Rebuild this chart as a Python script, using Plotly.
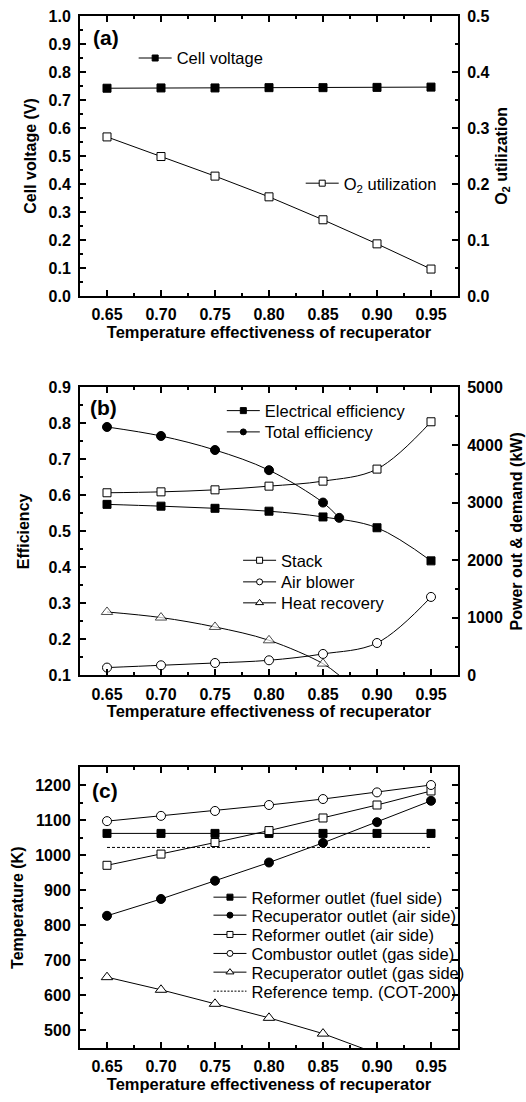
import plotly.graph_objects as go

FONT = "Liberation Sans"

# ---------------- data ----------------
effectiveness = [0.65, 0.70, 0.75, 0.80, 0.85, 0.90, 0.95]
x_tick_labels = ["0.65", "0.70", "0.75", "0.80", "0.85", "0.90", "0.95"]

# panel (a)
cell_voltage = [0.742, 0.743, 0.743, 0.744, 0.744, 0.745, 0.746]
o2_utilization = [0.284, 0.249, 0.214, 0.177, 0.136, 0.093, 0.048]
a_left_ticks = [0.0, 0.1, 0.2, 0.3, 0.4, 0.5, 0.6, 0.7, 0.8, 0.9, 1.0]
a_right_ticks = [0.0, 0.1, 0.2, 0.3, 0.4, 0.5]

# panel (b)
electrical_eff = [0.575, 0.570, 0.564, 0.556, 0.540, 0.510, 0.418]
total_eff_x = [0.65, 0.70, 0.75, 0.80, 0.85, 0.865]
total_eff = [0.790, 0.765, 0.726, 0.670, 0.580, 0.5375]
stack_kw = [3170, 3186, 3221, 3285, 3372, 3581, 4403]
blower_kw = [134, 174, 214, 261, 371, 561, 1361]
heat_x = [0.65, 0.70, 0.75, 0.80, 0.85, 0.865]
heat_kw = [1100, 1003, 840, 608, 203, 0]
b_left_ticks = [0.1, 0.2, 0.3, 0.4, 0.5, 0.6, 0.7, 0.8, 0.9]
b_right_ticks = [0, 1000, 2000, 3000, 4000, 5000]

# panel (c)
reformer_fuel = [1062, 1062, 1062, 1062, 1062, 1062, 1062]
recup_air = [827, 875, 927, 979, 1035, 1094, 1155]
reformer_air = [971, 1003, 1036, 1070, 1106, 1143, 1183]
combustor_gas = [1097, 1112, 1126, 1143, 1160, 1179, 1200]
recup_gas_x = [0.65, 0.70, 0.75, 0.80, 0.85, 0.90]
recup_gas = [652, 616, 576, 536, 491, 434]
ref_x = [0.65, 0.95]
ref_temp = [1022, 1022]
c_left_ticks = [500, 600, 700, 800, 900, 1000, 1100, 1200]

x_title = "Temperature effectiveness of recuperator"

# ---------------- geometry helpers (pixel -> paper) ----------------
W, H = 526, 1102
ML, MR, MT, MB = 79.5, 67.5, 16, 53.7
PW = W - ML - MR
PH = H - MT - MB


def px(x):
    return (x - ML) / PW


def py(y):
    return (H - MB - y) / PH


fig = go.Figure()
BLACK = "black"


def mk(symbol, filled, size):
    return dict(symbol=symbol, size=size, color=BLACK if filled else "white",
                line=dict(color=BLACK, width=1))


def add(xv, yv, xa, ya, symbol, filled, size=8, shape="linear", sizes=None):
    m = mk(symbol, filled, size)
    if sizes is not None:
        m["size"] = sizes
    fig.add_trace(go.Scatter(x=xv, y=yv, xaxis=xa, yaxis=ya, mode="lines+markers",
                             line=dict(color=BLACK, width=1, shape=shape, smoothing=1),
                             marker=m, showlegend=False, hoverinfo="skip"))


# panel (a)
add(effectiveness, cell_voltage, "x", "y", "square", True, 8)
add(effectiveness, o2_utilization, "x", "y2", "square", False, 8)

# panel (b)
add(effectiveness, electrical_eff, "x2", "y3", "square", True, 8, "spline")
add(total_eff_x, total_eff, "x2", "y3", "circle", True, 9, "spline")
add(effectiveness, stack_kw, "x2", "y4", "square", False, 8, "spline")
add(effectiveness, blower_kw, "x2", "y4", "circle", False, 9, "spline")
add(heat_x, heat_kw, "x2", "y4", "triangle-up", False, 10, "spline",
    sizes=[10, 10, 10, 10, 10, 0])

# panel (c)
add(effectiveness, reformer_fuel, "x3", "y5", "square", True, 8)
add(effectiveness, recup_air, "x3", "y5", "circle", True, 9)
add(effectiveness, reformer_air, "x3", "y5", "square", False, 8)
add(effectiveness, combustor_gas, "x3", "y5", "circle", False, 9)
add(recup_gas_x, recup_gas, "x3", "y5", "triangle-up", False, 10)
fig.add_trace(go.Scatter(x=ref_x, y=ref_temp, xaxis="x3", yaxis="y5", mode="lines",
                         line=dict(color=BLACK, width=1, dash="3px,2px"),
                         showlegend=False, hoverinfo="skip"))

# ---------------- legends (one entry each) ----------------
legend_entries = [
    # name, symbol, filled, marker-centre px, centre py
    ("Cell voltage", "square", True, 153.3, 58.3),
    ("O<sub>2</sub> utilization", "square", False, 320.8, 183.5),
    ("Electrical efficiency", "square", True, 241.7, 411.0),
    ("Total efficiency", "circle", True, 241.7, 432.3),
    ("Stack", "square", False, 258.0, 560.7),
    ("Air blower", "circle", False, 258.0, 582.3),
    ("Heat recovery", "triangle-up", False, 258.0, 603.3),
    ("Reformer outlet (fuel side)", "square", True, 228.3, 897.7),
    ("Recuperator outlet (air side)", "circle", True, 228.3, 915.7),
    ("Reformer outlet (air side)", "square", False, 228.3, 935.0),
    ("Combustor outlet (gas side)", "circle", False, 228.3, 954.0),
    ("Recuperator outlet (gas side)", "triangle-up", False, 228.3, 972.7),
    ("Reference temp. (COT-200)", None, False, 228.3, 991.7),
]

legend_layout = {}
for i, (name, sym, filled, mx, ly) in enumerate(legend_entries):
    key = "legend" if i == 0 else f"legend{i + 1}"
    if sym is None:
        tr = go.Scatter(x=[None], y=[None], mode="lines", name=name,
                        line=dict(color=BLACK, width=1, dash="2px,1.5px"),
                        legend=key, showlegend=True, hoverinfo="skip")
    else:
        tr = go.Scatter(x=[None], y=[None], mode="lines+markers", name=name,
                        line=dict(color=BLACK, width=1),
                        marker=dict(symbol=sym, size=6 if sym != "triangle-up" else 7,
                                    color=BLACK if filled else "white",
                                    line=dict(color=BLACK, width=1)),
                        legend=key, showlegend=True, hoverinfo="skip")
    fig.add_trace(tr)
    legend_layout[key] = dict(x=px(mx - 20), y=py(ly), xanchor="left", yanchor="middle",
                              bgcolor="rgba(0,0,0,0)", borderwidth=0, itemwidth=33,
                              font=dict(family=FONT, size=16.5, color=BLACK),
                              itemclick=False, itemdoubleclick=False)

# ---------------- axes ----------------
tickfont = dict(family=FONT, size=16, color=BLACK)
titlefont = dict(family=FONT, size=16, color=BLACK, weight="bold")
xtitlefont = dict(family=FONT, size=16.5, color=BLACK, weight="bold")


def bold(vals, fmt):
    return [f"<b>{fmt.format(v)}</b>" for v in vals]


def axis_base(**kw):
    d = dict(showline=True, linewidth=2, linecolor=BLACK, ticks="inside", ticklen=6,
             tickwidth=1.5, tickcolor=BLACK, showgrid=False, zeroline=False,
             tickfont=tickfont, fixedrange=True, automargin=False, tickmode="array")
    d.update(kw)
    return d


def minor(d0, dd):
    return dict(ticks="inside", ticklen=3, tickwidth=1.5, tickcolor=BLACK,
                tick0=d0, dtick=dd, showgrid=False)


def xaxis(anchor):
    return axis_base(range=[0.625, 0.975], tickvals=effectiveness,
                     ticktext=[f"<b>{t}</b>" for t in x_tick_labels],
                     mirror="ticks", anchor=anchor, domain=[0, 1], ticklabelstandoff=3,
                     minor=minor(0.625, 0.025),
                     title=dict(text=x_title, font=xtitlefont, standoff=4))


dom_a = [py(296), py(16)]
dom_b = [py(675.5), py(387.5)]
dom_c = [py(1048.3), py(767.7)]

fig.update_layout(
    width=W, height=H,
    margin=dict(l=ML, r=MR, t=MT, b=MB),
    paper_bgcolor="white", plot_bgcolor="white",
    font=dict(family=FONT, color=BLACK),
    xaxis=xaxis("y"),
    xaxis2=xaxis("y3"),
    xaxis3=xaxis("y5"),
    yaxis=axis_base(domain=dom_a, anchor="x", range=[0, 1], tickvals=a_left_ticks,
                    ticktext=bold(a_left_ticks, "{:.1f}"), minor=minor(0, 0.05),
                    ticklabelstandoff=4,
                    title=dict(text="Cell voltage (V)", font=titlefont, standoff=8)),
    yaxis2=axis_base(domain=dom_a, anchor="x", overlaying="y", side="right",
                     range=[0, 0.5], tickvals=a_right_ticks,
                     ticktext=bold(a_right_ticks, "{:.1f}"), minor=minor(0, 0.05),
                     ticklabelstandoff=4,
                     title=dict(text="O<sub>2</sub> utilization", font=titlefont, standoff=7)),
    yaxis3=axis_base(domain=dom_b, anchor="x2", range=[0.1, 0.9], tickvals=b_left_ticks,
                     ticktext=bold(b_left_ticks, "{:.1f}"), minor=minor(0.1, 0.05),
                     ticklabelstandoff=4,
                     title=dict(text="Efficiency", font=titlefont, standoff=15)),
    yaxis4=axis_base(domain=dom_b, anchor="x2", overlaying="y3", side="right",
                     range=[0, 5000], tickvals=b_right_ticks,
                     ticktext=bold(b_right_ticks, "{:d}"), minor=minor(0, 500),
                     ticklabelstandoff=4,
                     title=dict(text="Power out &amp; demand (kW)", font=titlefont, standoff=9)),
    yaxis5=axis_base(domain=dom_c, anchor="x3", range=[450, 1250], tickvals=c_left_ticks,
                     ticktext=bold(c_left_ticks, "{:d}"), mirror="ticks",
                     minor=minor(0, 50), ticklabelstandoff=4,
                     title=dict(text="Temperature (K)", font=titlefont, standoff=8)),
    **legend_layout,
)

for label, cx, cy in [("(a)", 106, 37.5), ("(b)", 103, 408), ("(c)", 105, 790.5)]:
    fig.add_annotation(text=label, xref="paper", yref="paper", x=px(cx), y=py(cy),
                       xanchor="center", yanchor="middle", showarrow=False,
                       font=dict(family=FONT, size=21, color=BLACK, weight="bold"))

fig.write_html("out.html", config={"displayModeBar": False},
               post_script="document.body.style.margin='0px';")
